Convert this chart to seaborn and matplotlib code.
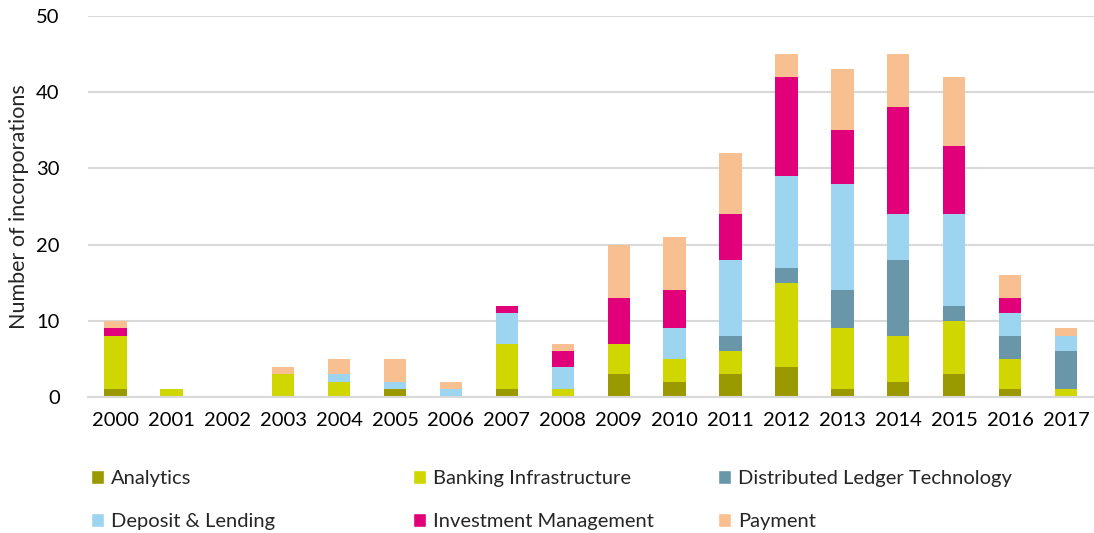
import numpy as np
import pandas as pd
import matplotlib
matplotlib.use("Agg")
import matplotlib.pyplot as plt
from matplotlib.patches import Patch
import seaborn as sns

# Data
years = [str(y) for y in range(2000, 2018)]
analytics = [1, 0, 0, 0, 0, 1, 0, 1, 0, 3, 2, 3, 4, 1, 2, 3, 1, 0]
banking_infra = [7, 1, 0, 3, 2, 0, 0, 6, 1, 4, 3, 3, 11, 8, 6, 7, 4, 1]
dlt = [0, 0, 0, 0, 0, 0, 0, 0, 0, 0, 0, 2, 2, 5, 10, 2, 3, 5]
deposit_lending = [0, 0, 0, 0, 1, 1, 1, 4, 3, 0, 4, 10, 12, 14, 6, 12, 3, 2]
investment_mgmt = [1, 0, 0, 0, 0, 0, 0, 1, 2, 6, 5, 6, 13, 7, 14, 9, 2, 0]
payment = [1, 0, 0, 1, 2, 3, 1, 0, 1, 7, 7, 8, 3, 8, 7, 9, 3, 1]

series = {
    "Analytics": analytics,
    "Banking Infrastructure": banking_infra,
    "Distributed Ledger Technology": dlt,
    "Deposit & Lending": deposit_lending,
    "Investment Management": investment_mgmt,
    "Payment": payment,
}
colors = ["#9a9a00", "#cfd600", "#6a96aa", "#9dd4ef", "#e2007a", "#f8c090"]

sns.set_style("white")
plt.rcParams["font.family"] = ["Lato", "DejaVu Sans"]

fig = plt.figure(figsize=(10.94, 5.33), dpi=100)
ax = fig.add_axes([0.08, 0.255, 0.92, 0.715])

bottom = np.zeros(len(years))
for (name, vals), col in zip(series.items(), colors):
    df = pd.DataFrame({"year": years, "n": vals})
    sns.barplot(data=df, x="year", y="n", order=years, color=col,
                saturation=1, width=0.4, errorbar=None, bottom=bottom,
                linewidth=0, ax=ax)
    bottom += np.array(vals)

ax.set_ylim(0, 50)
ax.set_xlim(-0.5, len(years) - 0.5)
ax.set_yticks(range(0, 51, 10))
ax.yaxis.grid(True, color="#d9d9d9", linewidth=1.5)
ax.set_axisbelow(True)
for s in ["top", "right", "left"]:
    ax.spines[s].set_visible(False)
ax.spines["bottom"].set_color("#d9d9d9")
ax.spines["bottom"].set_linewidth(1.5)
ax.tick_params(axis="x", length=0, labelsize=14.5, colors="black", pad=11)
ax.tick_params(axis="y", length=0, labelsize=14.5, colors="black", pad=20)
ax.set_xlabel("")
ax.set_ylabel("Number of incorporations", fontsize=15.5, labelpad=5)

# legend: three columns of two entries, each placed on its own
names = list(series.keys())
col_x = [0.0667, 0.361, 0.640]
for c, x0 in enumerate(col_x):
    hs = [Patch(facecolor=colors[i], label=names[i]) for i in (c, c + 3)]
    fig.legend(handles=hs, loc="upper left", bbox_to_anchor=(x0, 0.152),
               frameon=False, fontsize=14.5, handlelength=0.65,
               handleheight=0.65, handletextpad=0.35, labelspacing=1.3)

fig.savefig("out.png", dpi=100)
